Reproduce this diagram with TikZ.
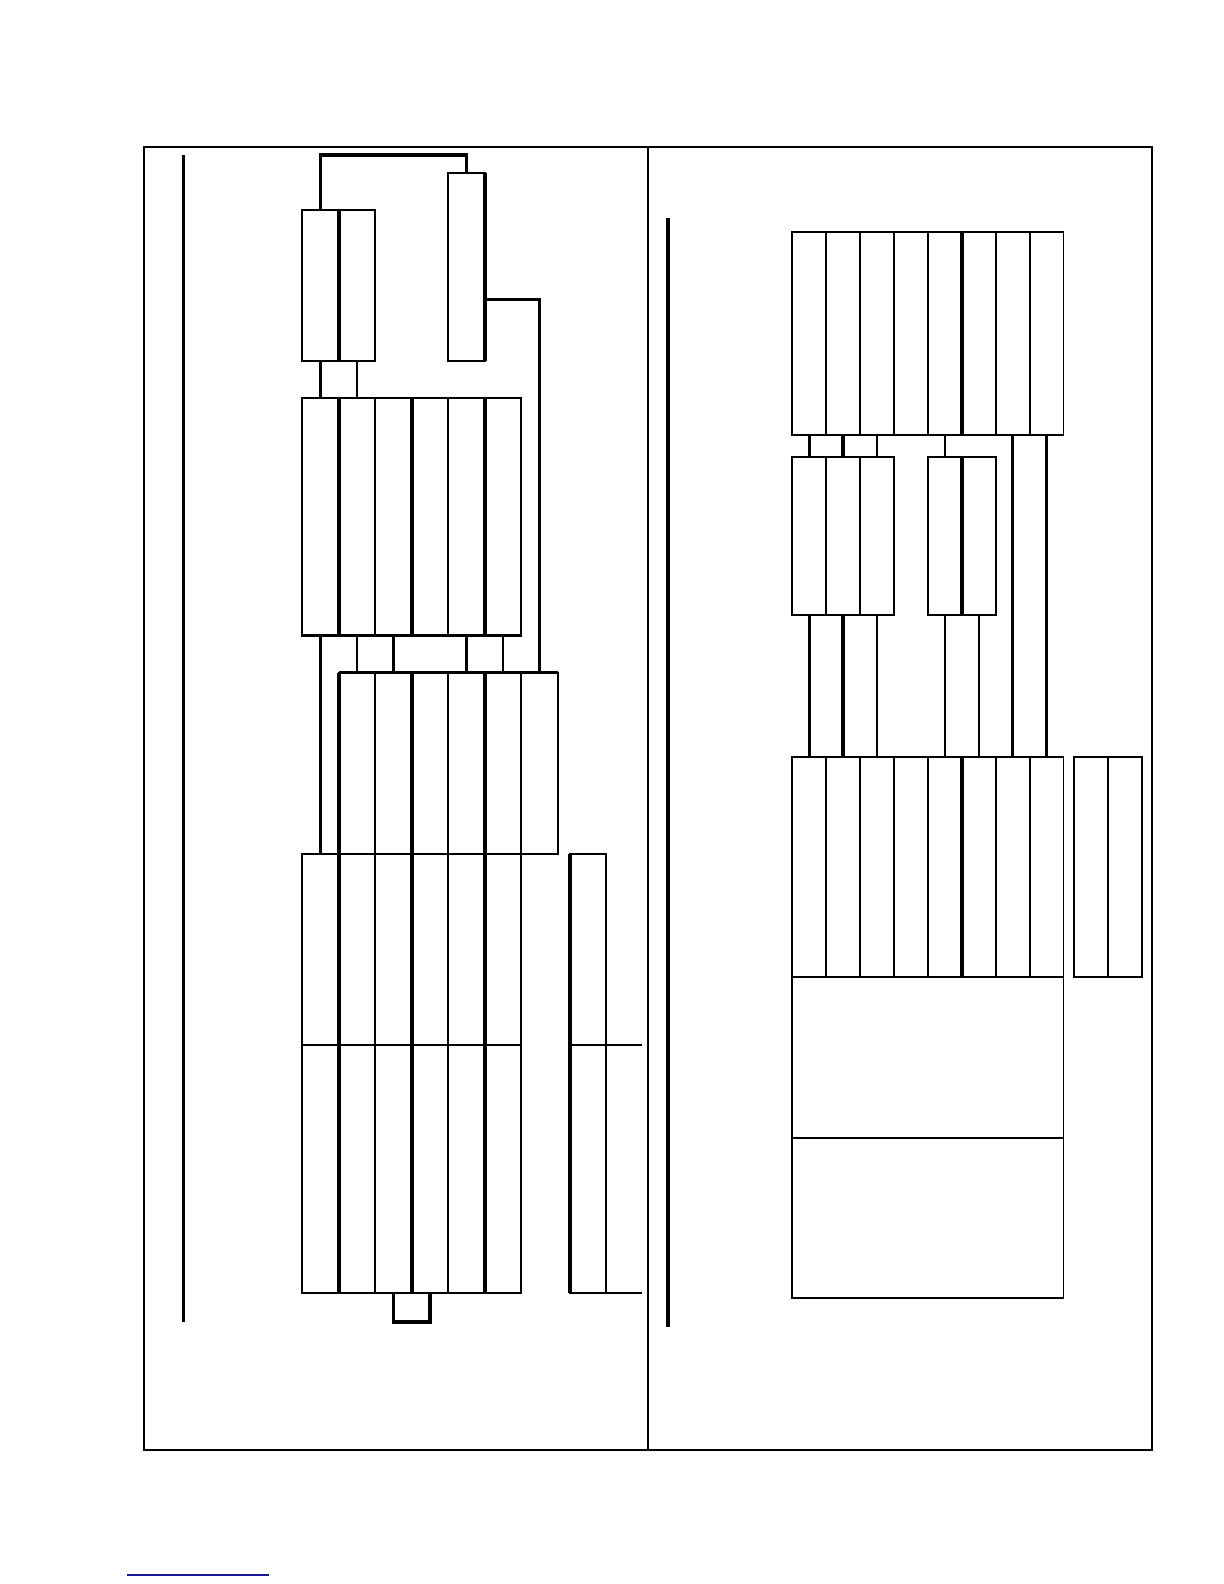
\documentclass[tikz,border=0pt]{standalone}
\definecolor{linkblue}{RGB}{24,24,150}
\begin{document}
\begin{tikzpicture}[x=0.5pt,y=-0.5pt,
  cell/.style 2 args={draw, line width=0.9pt, inner sep=0pt, outer sep=0pt,
    anchor=north west, minimum width={#1*0.5pt}, minimum height={#2*0.5pt}},
  plain/.style={line width=0.9pt},
  medium/.style={line width=1.2pt},
  heavy/.style={line width=1.7pt}]
  \useasboundingbox (0,0) rectangle (1224,1584);

  % frame
  \draw[plain] (144.3,147.3) rectangle (1152.3,1450);
  \draw[plain] (648.3,147.3) -- (648.3,1450);
  \draw[heavy] (183.7,155) -- (183.7,1321.7);
  \draw[heavy] (668,218.3) -- (668,1326.7);

  % block a
  \node[cell={36.5}{151}] (a1) at (302.3,210.3) {};
  \node[cell={36.5}{151}] (a2) at (338.8,210.3) {};
  % block b
  \node[cell={36.5}{188}] (b) at (448.3,173.3) {};
  % block c
  \node[cell={36.5}{237.4}] (c1) at (302.3,398.3) {};
  \node[cell={36.5}{237.4}] (c2) at (338.8,398.3) {};
  \node[cell={36.5}{237.4}] (c3) at (375.3,398.3) {};
  \node[cell={36.5}{237.4}] (c4) at (411.8,398.3) {};
  \node[cell={36.5}{237.4}] (c5) at (448.3,398.3) {};
  \node[cell={36.5}{237.4}] (c6) at (484.8,398.3) {};
  % block d
  \node[cell={36.5}{181.3}] (d1) at (338.8,672.7) {};
  \node[cell={36.5}{181.3}] (d2) at (375.3,672.7) {};
  \node[cell={36.5}{181.3}] (d3) at (411.8,672.7) {};
  \node[cell={36.5}{181.3}] (d4) at (448.3,672.7) {};
  \node[cell={36.5}{181.3}] (d5) at (484.8,672.7) {};
  \node[cell={36.5}{181.3}] (d6) at (521.3,672.7) {};
  % block e, upper row
  \node[cell={36.5}{191.3}] (e1) at (302.3,854) {};
  \node[cell={36.5}{191.3}] (e2) at (338.8,854) {};
  \node[cell={36.5}{191.3}] (e3) at (375.3,854) {};
  \node[cell={36.5}{191.3}] (e4) at (411.8,854) {};
  \node[cell={36.5}{191.3}] (e5) at (448.3,854) {};
  \node[cell={36.5}{191.3}] (e6) at (484.8,854) {};
  % block e, lower row
  \node[cell={36.5}{248}] (el1) at (302.3,1045.3) {};
  \node[cell={36.5}{248}] (el2) at (338.8,1045.3) {};
  \node[cell={36.5}{248}] (el3) at (375.3,1045.3) {};
  \node[cell={36.5}{248}] (el4) at (411.8,1045.3) {};
  \node[cell={36.5}{248}] (el5) at (448.3,1045.3) {};
  \node[cell={36.5}{248}] (el6) at (484.8,1045.3) {};
  % block f
  \node[cell={36.3}{191.3}] (f1) at (570,854) {};
  \node[cell={36.3}{248}] (fl1) at (570,1045.3) {};
  \draw[plain] (f1.south east) -- ++(35.7,0);
  \draw[plain] (fl1.south east) -- ++(35.7,0);

  % heavy rules of the left blocks
  \draw[heavy] (a2.north west) -- (a2.south west);
  \draw[heavy] (b.north east) -- (b.south east);
  \draw[heavy] (c2.north west) -- (c2.south west);
  \draw[heavy] (c4.north west) -- (c4.south west);
  \draw[heavy] (c6.north west) -- (c6.south west);
  \draw[heavy] (c1.south west) -- (c6.south east);
  \draw[heavy] (d1.north west) -- (d6.north east);
  \draw[heavy] (d1.north west) -- (d1.south west);
  \draw[heavy] (d3.north west) -- (d3.south west);
  \draw[heavy] (d5.north west) -- (d5.south west);
  \draw[heavy] (e2.north west) -- (el2.south west);
  \draw[heavy] (e4.north west) -- (el4.south west);
  \draw[heavy] (e6.north west) -- (el6.south west);
  \draw[heavy] (f1.north west) -- (fl1.south west);

  % left connectors
  \coordinate (topbend) at (466.55,155);
  \coordinate (bout) at (484.8,299.3);
  \draw[heavy] (a1.north) |- (topbend) -- (b.north);
  \draw[heavy] (bout) -| (d6.north);
  \draw[heavy] (a1.south) -- (c1.north);
  \draw[medium] (a2.south) -- (c2.north);
  \draw[heavy] (c1.south) -- (e1.north);
  \draw[medium] (c2.south) -- (d1.north);
  \draw[heavy] (c3.south) -- (d2.north);
  \draw[heavy] (c5.south) -- (d4.north);
  \draw[medium] (c6.south) -- (d5.north);
  \draw[heavy] (el3.south) -- ++(0,28.7) -| (el4.south);

  % block g
  \node[cell={33.9}{203}] (g1) at (792.3,232.3) {};
  \node[cell={33.9}{203}] (g2) at (826.2,232.3) {};
  \node[cell={33.9}{203}] (g3) at (860.1,232.3) {};
  \node[cell={33.9}{203}] (g4) at (894.0,232.3) {};
  \node[cell={33.9}{203}] (g5) at (927.9,232.3) {};
  \node[cell={33.9}{203}] (g6) at (961.8,232.3) {};
  \node[cell={33.9}{203}] (g7) at (995.7,232.3) {};
  \node[cell={33.9}{203}] (g8) at (1029.6,232.3) {};
  % block h
  \node[cell={33.9}{158}] (h1) at (792.3,457.3) {};
  \node[cell={33.9}{158}] (h2) at (826.2,457.3) {};
  \node[cell={33.9}{158}] (h3) at (860.1,457.3) {};
  % block i
  \node[cell={33.9}{158}] (i1) at (927.9,457.3) {};
  \node[cell={33.9}{158}] (i2) at (961.8,457.3) {};
  % block j
  \node[cell={33.9}{220}] (j1) at (792.3,757.3) {};
  \node[cell={33.9}{220}] (j2) at (826.2,757.3) {};
  \node[cell={33.9}{220}] (j3) at (860.1,757.3) {};
  \node[cell={33.9}{220}] (j4) at (894.0,757.3) {};
  \node[cell={33.9}{220}] (j5) at (927.9,757.3) {};
  \node[cell={33.9}{220}] (j6) at (961.8,757.3) {};
  \node[cell={33.9}{220}] (j7) at (995.7,757.3) {};
  \node[cell={33.9}{220}] (j8) at (1029.6,757.3) {};
  \node[cell={271.2}{161}] (jm) at (792.3,977.3) {};
  \node[cell={271.2}{160}] (jb) at (792.3,1138.3) {};
  % block k
  \node[cell={34}{220}] (k1) at (1074.3,757.3) {};
  \node[cell={34}{220}] (k2) at (1108.3,757.3) {};

  % heavy rules of the right blocks
  \draw[heavy] (g6.north west) -- (g6.south west);
  \draw[heavy] (i2.north west) -- (i2.south west);
  \draw[heavy] (j6.north west) -- (j6.south west);

  % right connectors
  \draw[heavy] (g1.south) -- (h1.north);
  \draw[heavy] (g2.south) -- (h2.north);
  \draw[medium] (g3.south) -- (h3.north);
  \draw[medium] (g5.south) -- (i1.north);
  \draw[medium] (g7.south) -- (j7.north);
  \draw[heavy] (g8.south) -- (j8.north);
  \draw[heavy] (h1.south) -- (j1.north);
  \draw[heavy] (h2.south) -- (j2.north);
  \draw[medium] (h3.south) -- (j3.north);
  \draw[medium] (i1.south) -- (j5.north);
  \draw[medium] (i2.south) -- (j6.north);

  % link rule
  \draw[line width=1pt, linkblue] (127,1575) -- (269,1575);
\end{tikzpicture}
\end{document}
